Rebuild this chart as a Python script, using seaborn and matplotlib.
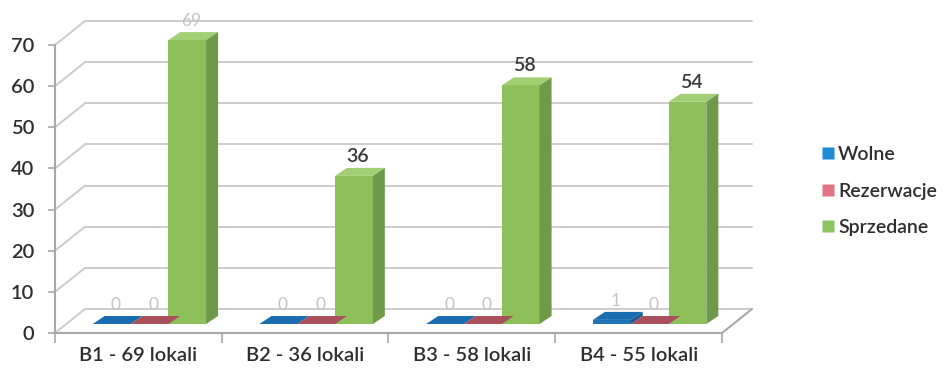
import matplotlib
matplotlib.use("Agg")
import numpy as np
import pandas as pd
import seaborn as sns
import matplotlib.pyplot as plt
from matplotlib.patches import Polygon
from matplotlib.lines import Line2D

# --- data ---
budynki = ["B1 - 69 lokali", "B2 - 36 lokali", "B3 - 58 lokali", "B4 - 55 lokali"]
statusy = ["Wolne", "Rezerwacje", "Sprzedane"]
wolne = [0, 0, 0, 1]
rezerwacje = [0, 0, 0, 0]
sprzedane = [69, 36, 58, 54]
y_ticks = [0, 10, 20, 30, 40, 50, 60, 70]

df = pd.DataFrame({
    "budynek": budynki * 3,
    "status": [s for s in statusy for _ in budynki],
    "liczba": wolne + rezerwacje + sprzedane,
})

# --- styling ---
sns.set_theme(style="white")
plt.rcParams["font.family"] = ["Lato", "DejaVu Sans"]
plt.rcParams["font.weight"] = 600

front_col = {"Wolne": "#1f74b8", "Rezerwacje": "#b05862", "Sprzedane": "#8dc05a"}
top_col = {"Wolne": "#1a6db0", "Rezerwacje": "#a9505c", "Sprzedane": "#a2cf74"}
side_col = {"Wolne": "#165d96", "Rezerwacje": "#8e4450", "Sprzedane": "#6e9a4a"}
legend_col = {"Wolne": "#1f8ad6", "Rezerwacje": "#e07484", "Sprzedane": "#8cc462"}
grid_col = "#cccccc"
axis_col = "#a8a8a8"
text_col = "#2e2e2e"

W, H = 945, 375
fig = plt.figure(figsize=(W / 100, H / 100), dpi=100)
fig.patch.set_facecolor("white")


def rect(x0, y0, x1, y1):
    return [x0 / W, 1 - y1 / H, (x1 - x0) / W, (y1 - y0) / H]


ax = fig.add_axes(rect(55, 45, 722, 333))
ax.set_facecolor("none")

sns.barplot(data=df, x="budynek", y="liczba", hue="status", hue_order=statusy,
            order=budynki, palette=front_col, width=0.68, saturation=1,
            legend=False, ax=ax, zorder=4)

ax.set_xlim(-0.5, 3.5)
ax.set_ylim(0, 70)

# pixel -> data scale factors
PX_X = (722 - 55) / 4.0
PX_Y = (333 - 45) / 70.0

# back wall offset, bar placement offset and bar depth (pixels)
WALL_DX, WALL_DY = 30, 24
BAR_DX, BAR_DY = 11, 9
DEP_DX, DEP_DY = 12, 8

wx, wy = WALL_DX / PX_X, WALL_DY / PX_Y
bx, by = BAR_DX / PX_X, BAR_DY / PX_Y
dx, dy = DEP_DX / PX_X, DEP_DY / PX_Y

# back wall gridlines and side-wall diagonals
for v in y_ticks:
    ax.plot([-0.5 + wx, 3.5 + wx], [v + wy, v + wy], color=grid_col, lw=1.4,
            zorder=1, clip_on=False)
    ax.plot([-0.5, -0.5 + wx], [v, v + wy], color=grid_col, lw=1.4,
            zorder=1, clip_on=False)

# floor edges and front axis
ax.plot([-0.5, 3.5], [0, 0], color=axis_col, lw=1.5, zorder=2, clip_on=False)
ax.plot([3.5, 3.5 + wx], [0, wy], color=axis_col, lw=1.5, zorder=2, clip_on=False)
ax.plot([-0.5, -0.5], [0, 70], color=axis_col, lw=1.5, zorder=2, clip_on=False)
for s in ax.spines.values():
    s.set_visible(False)

# 3D faces for each bar
for status, cont in zip(statusy, ax.containers):
    for p in cont.patches:
        x0 = p.get_x() + bx
        x1 = x0 + p.get_width()
        y0 = by
        h = p.get_height()
        p.set_x(x0)
        p.set_y(y0)
        p.set_clip_on(False)
        p.set_edgecolor("none")
        top = Polygon([(x0, y0 + h), (x1, y0 + h), (x1 + dx, y0 + h + dy),
                       (x0 + dx, y0 + h + dy)], closed=True,
                      facecolor=top_col[status], edgecolor="none",
                      zorder=4, clip_on=False)
        ax.add_patch(top)
        if h > 0:
            side = Polygon([(x1, y0), (x1, y0 + h), (x1 + dx, y0 + h + dy),
                            (x1 + dx, y0 + dy)], closed=True,
                           facecolor=side_col[status], edgecolor="none",
                           zorder=4, clip_on=False)
            ax.add_patch(side)
        # value label
        light = status != "Sprzedane" or h >= 65
        ax.text((x0 + x1) / 2 + dx / 3, y0 + h + dy + 3 / PX_Y, f"{int(h)}",
                ha="center", va="bottom",
                fontsize=12.5 if light else 14,
                fontweight="normal" if light else 600,
                color="#c4c4c4" if light else "#383838",
                zorder=6, clip_on=False)

# ticks
ax.set_yticks(y_ticks)
ax.set_yticklabels([str(v) for v in y_ticks])
ax.tick_params(axis="y", which="major", left=True, length=5, width=1.2,
               color=axis_col, pad=10, labelsize=14.5, labelcolor=text_col)
ax.set_xticks(range(len(budynki)))
ax.set_xticklabels(budynki)
ax.set_xticks([-0.5, 0.5, 1.5, 2.5, 3.5], minor=True)
ax.tick_params(axis="x", which="major", bottom=False, length=0, pad=10,
               labelsize=14.5, labelcolor=text_col)
ax.tick_params(axis="x", which="minor", bottom=True, length=7, width=1.2,
               color=axis_col)
ax.set_xlabel("")
ax.set_ylabel("")
ax.grid(False)

# legend
handles = [Line2D([0], [0], marker="s", linestyle="none", markersize=8,
                  markerfacecolor=legend_col[s], markeredgecolor="none")
           for s in statusy]
fig.legend(handles, statusy, loc="center left",
           bbox_to_anchor=(812 / W, 1 - 191 / H), frameon=False,
           handlelength=0.6, handletextpad=0.25, labelspacing=1.0,
           fontsize=14, labelcolor=text_col, borderpad=0)

fig.savefig("out.png", dpi=100, facecolor="white")
